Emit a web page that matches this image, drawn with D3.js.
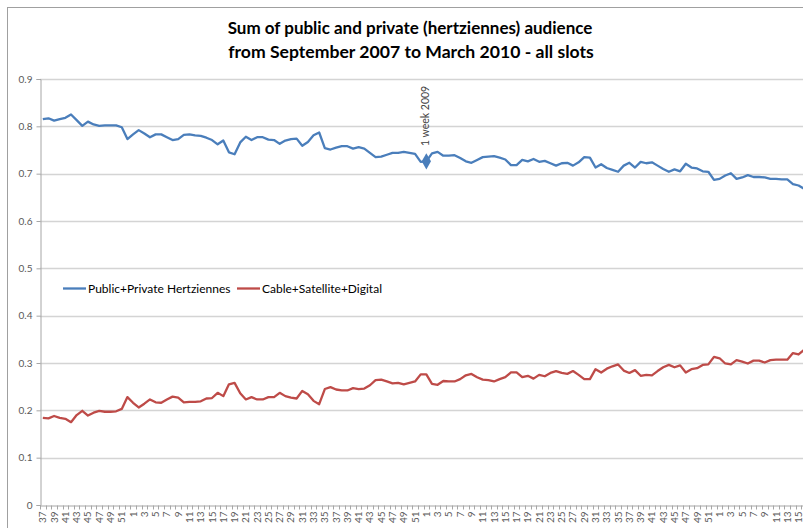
<!DOCTYPE html>
<html>
<head>
<meta charset="utf-8">
<script src="https://cdn.jsdelivr.net/npm/d3@7"></script>
<style>
  body { margin: 0; background: #fff; }
  svg { display: block; font-family: Lato, "Open Sans", sans-serif; }
</style>
</head>
<body>
<svg id="chart"></svg>
<script>
var width = 803;
var height = 528;

// week numbers, Sept 2007 (w37) .. 2010 (w16)
var weeks = [37, 38, 39, 40, 41, 42, 43, 44, 45, 46, 47, 48, 49, 50, 51, 52,
	1, 2, 3, 4, 5, 6, 7, 8, 9, 10, 11, 12, 13, 14, 15, 16, 17, 18, 19, 20, 21, 22, 23, 24, 25, 26,
	27, 28, 29, 30, 31, 32, 33, 34, 35, 36, 37, 38, 39, 40, 41, 42, 43, 44, 45, 46, 47, 48, 49, 50, 51, 52,
	1, 2, 3, 4, 5, 6, 7, 8, 9, 10, 11, 12, 13, 14, 15, 16, 17, 18, 19, 20, 21, 22, 23, 24, 25, 26,
	27, 28, 29, 30, 31, 32, 33, 34, 35, 36, 37, 38, 39, 40, 41, 42, 43, 44, 45, 46, 47, 48, 49, 50, 51, 52,
	1, 2, 3, 4, 5, 6, 7, 8, 9, 10, 11, 12, 13, 14, 15, 16];

var hertziennes = [0.815, 0.817, 0.812, 0.815, 0.818, 0.825, 0.813, 0.801, 0.810, 0.804,
	0.801, 0.802, 0.802, 0.802, 0.798, 0.773, 0.783, 0.792, 0.785, 0.777,
	0.783, 0.783, 0.777, 0.771, 0.773, 0.782, 0.783, 0.781, 0.780, 0.776,
	0.771, 0.762, 0.770, 0.745, 0.741, 0.766, 0.778, 0.771, 0.777, 0.777,
	0.772, 0.771, 0.763, 0.770, 0.773, 0.774, 0.759, 0.767, 0.781, 0.787,
	0.754, 0.751, 0.755, 0.758, 0.758, 0.753, 0.756, 0.753, 0.744, 0.735,
	0.736, 0.740, 0.744, 0.744, 0.746, 0.744, 0.742, 0.725, 0.726, 0.743,
	0.746, 0.738, 0.738, 0.739, 0.733, 0.726, 0.723, 0.729, 0.735, 0.736,
	0.737, 0.734, 0.730, 0.718, 0.718, 0.729, 0.726, 0.731, 0.725, 0.727,
	0.722, 0.717, 0.722, 0.723, 0.717, 0.724, 0.735, 0.734, 0.713, 0.720,
	0.712, 0.708, 0.704, 0.717, 0.723, 0.713, 0.725, 0.722, 0.724, 0.717,
	0.710, 0.704, 0.709, 0.705, 0.721, 0.713, 0.711, 0.705, 0.704, 0.687,
	0.689, 0.696, 0.701, 0.689, 0.692, 0.697, 0.693, 0.693, 0.692, 0.689,
	0.689, 0.688, 0.688, 0.678, 0.675, 0.668];

var cableSat = [0.184, 0.183, 0.188, 0.184, 0.182, 0.175, 0.190, 0.199, 0.189, 0.195,
	0.199, 0.197, 0.197, 0.198, 0.203, 0.228, 0.216, 0.206, 0.214, 0.223,
	0.217, 0.216, 0.223, 0.229, 0.227, 0.217, 0.218, 0.218, 0.219, 0.225,
	0.226, 0.237, 0.230, 0.255, 0.258, 0.236, 0.223, 0.228, 0.223, 0.223,
	0.228, 0.228, 0.237, 0.230, 0.227, 0.225, 0.241, 0.234, 0.220, 0.213,
	0.245, 0.249, 0.244, 0.242, 0.242, 0.247, 0.245, 0.246, 0.253, 0.264,
	0.265, 0.261, 0.257, 0.258, 0.255, 0.258, 0.261, 0.276, 0.276, 0.256,
	0.254, 0.262, 0.261, 0.261, 0.266, 0.274, 0.277, 0.270, 0.265, 0.264,
	0.261, 0.266, 0.270, 0.280, 0.280, 0.270, 0.273, 0.267, 0.275, 0.272,
	0.279, 0.283, 0.279, 0.277, 0.283, 0.275, 0.266, 0.266, 0.287, 0.280,
	0.288, 0.293, 0.297, 0.284, 0.279, 0.285, 0.273, 0.275, 0.274, 0.283,
	0.291, 0.296, 0.291, 0.295, 0.280, 0.287, 0.289, 0.296, 0.297, 0.313,
	0.310, 0.299, 0.297, 0.306, 0.303, 0.299, 0.305, 0.305, 0.301, 0.306,
	0.307, 0.307, 0.307, 0.321, 0.318, 0.328];

var yTicks = [0, 0.1, 0.2, 0.3, 0.4, 0.5, 0.6, 0.7, 0.8, 0.9];
var seriesNames = ['Public+Private Hertziennes', 'Cable+Satellite+Digital'];
var seriesColors = ['#4a7ebb', '#be4b48'];
var markerIndex = 68; // week 1 of 2009
var markerText = '1 week 2009';

var margin = {top: 79, left: 40, bottom: 23};
var step = 5.64;

var svg = d3.select('#chart')
	.attr('width', width)
	.attr('height', height);

// outer chart frame (right side runs off the picture)
svg.append('rect')
	.attr('x', 7.5)
	.attr('y', 7.5)
	.attr('width', 820)
	.attr('height', 540)
	.attr('fill', '#fff')
	.attr('stroke', '#a0a0a0');

/****************************
 * title
 ****************************/
svg.append('text')
	.attr('x', 410)
	.attr('y', 34)
	.attr('text-anchor', 'middle')
	.style('font-size', '17px')
	.style('font-weight', 'bold')
	.attr('fill', '#000')
	.text('Sum of public and private (hertziennes) audience');

svg.append('text')
	.attr('x', 411)
	.attr('y', 58)
	.attr('text-anchor', 'middle')
	.style('font-size', '17.6px')
	.style('font-weight', 'bold')
	.attr('fill', '#000')
	.text('from September 2007 to March 2010 - all slots');

/****************************
 * scales and axes
 ****************************/
var idx = weeks.map(function(d, i) { return i; });

var x = d3.scaleBand()
	.range([margin.left, margin.left + step * weeks.length])
	.domain(idx);

var y = d3.scaleLinear()
	.range([height - margin.bottom, margin.top])
	.domain([0, 0.9]);

function cx(i) { return x(i) + x.bandwidth() / 2; }

// gridlines
svg.append('g')
	.selectAll('line')
	.data(yTicks.filter(function(d) { return d > 0; }))
	.enter().append('line')
	.attr('x1', margin.left)
	.attr('x2', width)
	.attr('y1', function(d) { return Math.round(y(d)) + 0.5; })
	.attr('y2', function(d) { return Math.round(y(d)) + 0.5; })
	.attr('stroke', '#d4d4d4')
	.attr('stroke-width', 1.3);

var yAxis = d3.axisLeft(y)
	.tickValues(yTicks)
	.tickSize(4)
	.tickFormat(function(d) { return d === 0 ? '0' : d3.format('.1f')(d); });

var gy = svg.append('g')
	.attr('transform', 'translate(' + (margin.left + 0.5) + ',0)')
	.call(yAxis);
gy.selectAll('path, line').attr('stroke', '#a6a6a6');
gy.selectAll('text')
	.attr('fill', '#595959')
	.attr('x', -8)
	.style('font-size', '10px')
	.style('font-family', 'Lato, sans-serif');

var xAxis = d3.axisBottom(x)
	.tickValues(idx.filter(function(i) { return i % 2 === 0; }))
	.tickSize(0)
	.tickFormat(function(i) { return weeks[i]; });

var gx = svg.append('g')
	.attr('transform', 'translate(0,' + (Math.round(y(0)) + 0.5) + ')')
	.call(xAxis);
gx.select('.domain').attr('stroke', '#a6a6a6');
gx.selectAll('text')
	.attr('fill', '#595959')
	.attr('transform', 'rotate(-90)')
	.attr('text-anchor', 'end')
	.attr('x', -6)
	.attr('y', 0)
	.attr('dy', '0.35em')
	.style('font-size', '10px')
	.style('font-family', 'Lato, sans-serif');

// little tick marks on every category boundary
gx.append('g')
	.selectAll('line')
	.data(idx)
	.enter().append('line')
	.attr('x1', function(i) { return Math.round(x(i)) + 0.5; })
	.attr('x2', function(i) { return Math.round(x(i)) + 0.5; })
	.attr('y1', 0)
	.attr('y2', 4)
	.attr('stroke', '#a6a6a6');

/****************************
 * lines
 ****************************/
var line = d3.line()
	.x(function(d, i) { return cx(i); })
	.y(function(d) { return y(d); });

[hertziennes, cableSat].forEach(function(s, k) {
	svg.append('path')
		.datum(s)
		.attr('fill', 'none')
		.attr('stroke', seriesColors[k])
		.attr('stroke-width', 2.3)
		.attr('stroke-linejoin', 'round')
		.attr('d', line);
});

// diamond marker + label for first week of 2009
svg.append('path')
	.attr('d', d3.symbol().type(d3.symbolDiamond).size(75))
	.attr('transform', 'translate(' + cx(markerIndex) + ',' + y(hertziennes[markerIndex]) + ')')
	.attr('fill', seriesColors[0]);

svg.append('text')
	.attr('transform', 'translate(' + (cx(markerIndex) + 3) + ',' + 146 + ') rotate(-90)')
	.attr('fill', '#404040')
	.style('font-size', '10.5px')
	.text(markerText);

/****************************
 * legend
 ****************************/
var legendX = [63, 237];
var legend = svg.append('g');
seriesNames.forEach(function(name, k) {
	legend.append('line')
		.attr('x1', legendX[k])
		.attr('x2', legendX[k] + 23)
		.attr('y1', 288.5)
		.attr('y2', 288.5)
		.attr('stroke', seriesColors[k])
		.attr('stroke-width', 2.3);
	legend.append('text')
		.attr('x', legendX[k] + 25)
		.attr('y', 292.5)
		.attr('fill', '#000')
		.style('font-size', '12px')
		.text(name);
});
</script>
</body>
</html>
